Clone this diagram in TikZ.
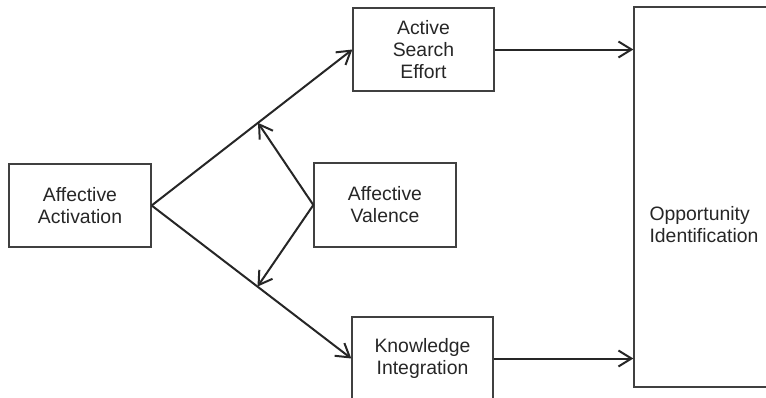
\documentclass[tikz,border=0pt]{standalone}
\usepackage{fontspec}
\setmainfont{Liberation Sans}
\usepackage{tikz}
\usetikzlibrary{positioning,arrows.meta,calc}

\begin{document}
\begin{tikzpicture}[
    x=0.5pt, y=-0.5pt,
    block/.style={draw=black!75, line width=0.65pt, minimum width=71pt, minimum height=41.5pt, inner sep=0pt, align=center, text=black!85, font=\fontsize{9.7}{11}\selectfont},
    arr/.style={-{Straight Barb[length=6.5pt,width=8pt]}, line width=1pt, black!85},
    lbl/.style={font=\fontsize{9.7}{11}\selectfont, text=black!85, align=left, inner sep=0pt},
]
\clip (0,0) rectangle (766,397);

\node[block] (activation) at (80,205.5) {Affective\\Activation};
\node[block, minimum height=42pt] (valence) at (385,205) {Affective\\Valence};
\node[block, minimum width=70.5pt] (search) at (423.5,49.5) {Active\\Search\\Effort};
\node[block, minimum width=70.5pt] (knowledge) at (422.5,358.5) {Knowledge\\Integration};
\node[block, minimum width=70pt, minimum height=190pt] (opportunity) at (704,197) {};
\node[lbl] (opplbl) at (704,225) {Opportunity\\Identification};

\coordinate (upmid) at ($(activation.east)!0.53!(search.west)$);
\coordinate (lowmid) at ($(activation.east)!0.53!(knowledge.west)$);

% ===== ARROWS =====
\draw[arr] (activation.east) -- (search.west);
\draw[arr] (activation.east) -- (knowledge.west);
\draw[arr] (valence.west) -- (upmid);
\draw[arr] (valence.west) -- (lowmid);
\draw[arr] (search.east) -- (search.east -| opportunity.west);
\draw[arr] (knowledge.east) -- (knowledge.east -| opportunity.west);

\end{tikzpicture}
\end{document}
